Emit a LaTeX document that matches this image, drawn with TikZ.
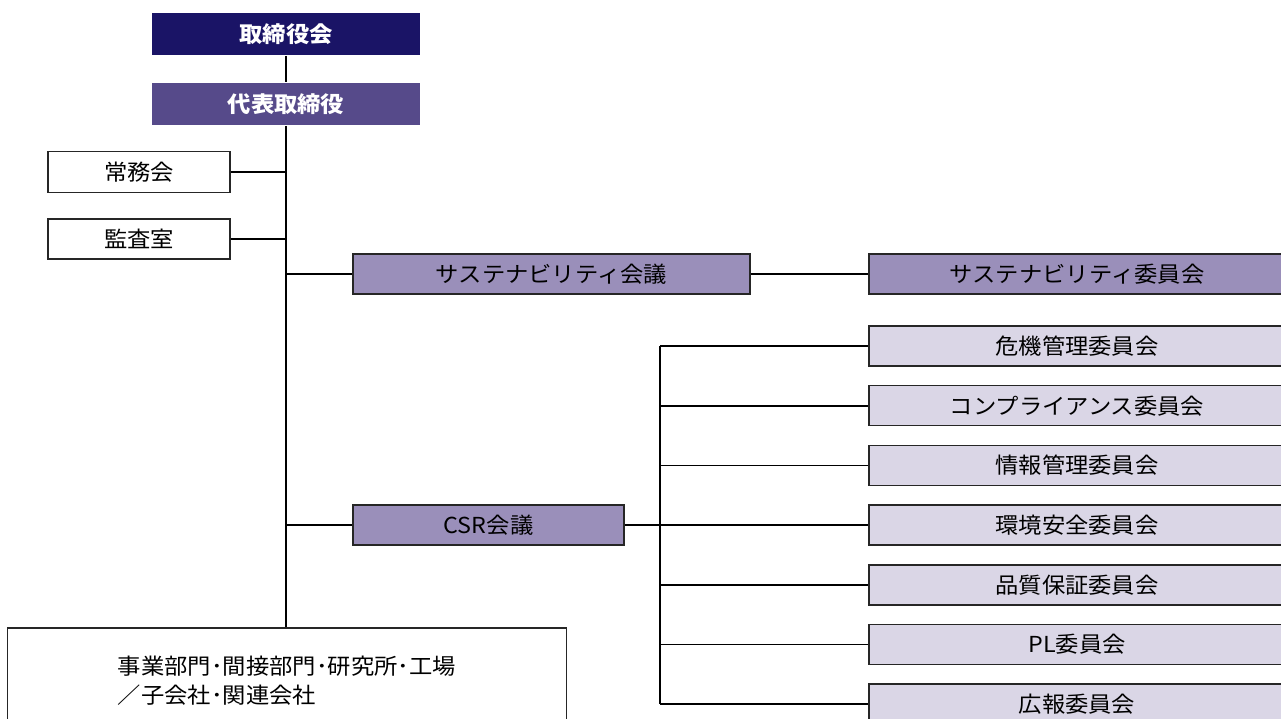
\documentclass[tikz,border=0pt]{standalone}
\usepackage{fontspec}
\setmainfont{Noto Sans CJK JP}[FakeStretch=1.06]
\usepackage{xcolor}
\usepackage{tikz}
\usetikzlibrary{positioning}
\definecolor{boardnavy}{HTML}{1A1466}
\definecolor{repviolet}{HTML}{564A8A}
\definecolor{meetviolet}{HTML}{9A8FBA}
\definecolor{comlilac}{HTML}{DAD6E6}
\newcommand{\orgfont}{\fontsize{22}{29}\selectfont}
\tikzstyle{unit} = [rectangle, draw=black!85, line width=1.5pt, fill=white, font=\orgfont, minimum height=40pt, inner sep=0pt]
\tikzstyle{top} = [unit, draw=none, text=white, font=\orgfont\bfseries, minimum width=268pt, minimum height=42pt]
\tikzstyle{meeting} = [unit, fill=meetviolet]
\tikzstyle{committee} = [unit, fill=comlilac, minimum width=416pt]
\tikzstyle{line} = [draw, line width=1.6pt]

\begin{document}
\begin{tikzpicture}[x=1pt, y=-1pt, node distance=18.2pt]
    \useasboundingbox (0,0) rectangle (1281,718);
    \clip (0,0) rectangle (1281,718);

    \node [top, fill=boardnavy] (board) at (286,34) {取締役会};
    \node [top, fill=repviolet] (rep) at (286,104) {代表取締役};
    \node [unit, minimum width=182pt, minimum height=41pt] (jomu) at (139,172) {常務会};
    \node [unit, minimum width=182pt] (kansa) at (139,239) {監査室};
    \node [meeting, minimum width=397pt] (susmeet) at (551.5,274) {サステナビリティ会議};
    \node [meeting, minimum width=416pt] (suscom) at (1077,274) {サステナビリティ委員会};
    \node [meeting, minimum width=271pt] (csr) at (488.5,525) {CSR会議};

    \node [committee] (kiki) at (1077,346) {危機管理委員会};
    \node [committee, below=of kiki] (comp) {コンプライアンス委員会};
    \node [committee, below=of comp] (joho) {情報管理委員会};
    \node [committee, below=of joho] (kankyo) {環境安全委員会};
    \node [committee, below=of kankyo] (hinshitsu) {品質保証委員会};
    \node [committee, below=of hinshitsu] (pl) {PL委員会};
    \node [committee, below=of pl] (koho) {広報委員会};

    \node [unit, align=left, minimum width=559pt, minimum height=106pt] (base) at (287,681)
        {事業部門･間接部門･研究所･工場\\／子会社･関連会社};

    \coordinate (hub) at (660,346);

    \path [line] (board) -- (rep);
    \path [line] (rep.south) -- (rep.south |- base.north);
    \path [line] (jomu.east) -- (jomu.east -| rep.south);
    \path [line] (kansa.east) -- (kansa.east -| rep.south);
    \path [line] (susmeet.west -| rep.south) -- (susmeet.west);
    \path [line] (csr.west -| rep.south) -- (csr.west);
    \path [line] (susmeet) -- (suscom);
    \path [line] (csr.east) -- (csr.east -| hub);
    \path [line] (kiki.west -| hub) -- (koho.west -| hub);
    \foreach \c in {kiki,comp,joho,kankyo,hinshitsu,pl,koho}
        \path [line] (\c.west -| hub) -- (\c.west);
\end{tikzpicture}
\end{document}
